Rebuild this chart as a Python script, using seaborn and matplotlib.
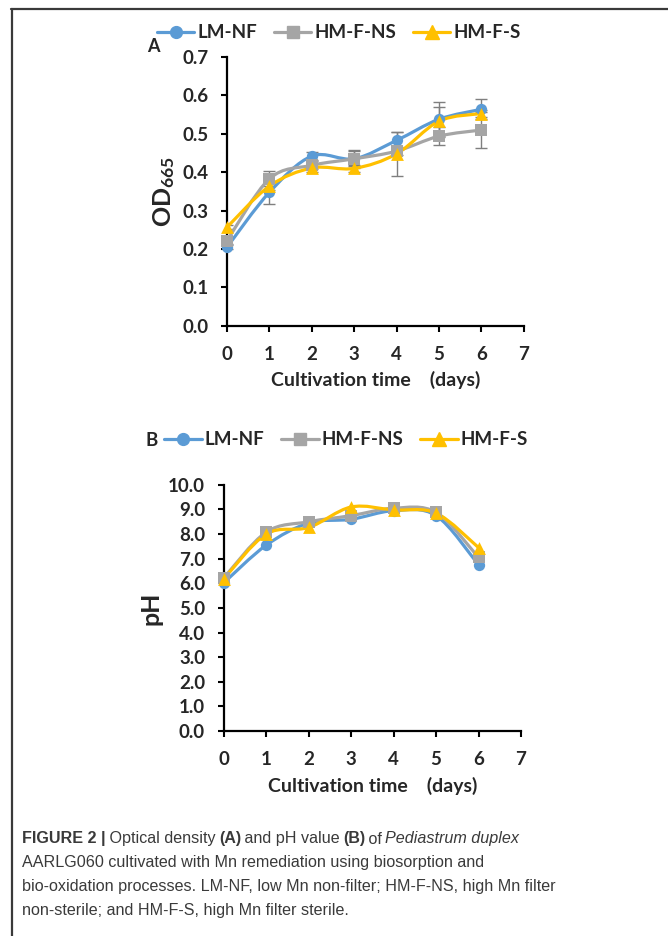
import numpy as np
import seaborn as sns
from matplotlib import pyplot as plt
from matplotlib.path import Path
from matplotlib.patches import PathPatch
from matplotlib.lines import Line2D

days = [0, 1, 2, 3, 4, 5, 6]
series = ['LM-NF', 'HM-F-NS', 'HM-F-S']
colors = ['#5B9BD5', '#A5A5A5', '#FFC000']
markers = ['o', 's', '^']

# panel A: optical density
od_lm_nf = [0.205, 0.348, 0.442, 0.435, 0.483, 0.538, 0.564]
od_hm_f_ns = [0.222, 0.383, 0.418, 0.435, 0.455, 0.494, 0.51]
od_hm_f_s = [0.257, 0.364, 0.411, 0.41, 0.448, 0.533, 0.553]
od_err_lm_nf = [0.005, 0.03, 0.01, 0.02, 0.022, 0.045, 0.026]
od_err_hm_f_ns = [0.01, 0.02, 0.01, 0.023, 0.01, 0.024, 0.046]
od_err_hm_f_s = [0.005, 0.01, 0.01, 0.01, 0.058, 0.038, 0.01]

# panel B: pH
ph_lm_nf = [6.02, 7.55, 8.45, 8.6, 8.95, 8.75, 6.75]
ph_hm_f_ns = [6.22, 8.08, 8.5, 8.75, 9.05, 8.88, 7.05]
ph_hm_f_s = [6.18, 8.0, 8.27, 9.1, 8.98, 8.85, 7.45]

sns.set_style('ticks')
plt.rcParams['font.family'] = ['Lato', 'DejaVu Sans']
plt.rcParams['mathtext.fontset'] = 'custom'
plt.rcParams['mathtext.rm'] = 'Lato:bold'
plt.rcParams['mathtext.bf'] = 'Lato:bold'


def smooth_path(x, y):
    # excel-like smoothed line through the points
    pts = np.column_stack([x, y]).astype(float)
    ext = np.vstack([pts[0], pts, pts[-1]])
    verts = [pts[0]]
    codes = [Path.MOVETO]
    for i in range(len(pts) - 1):
        p0, p1, p2, p3 = ext[i], ext[i + 1], ext[i + 2], ext[i + 3]
        verts += [p1 + (p2 - p0) / 6, p2 - (p3 - p1) / 6, p2]
        codes += [Path.CURVE4] * 3
    return Path(verts, codes)


def draw_panel(ax, values, errors=None):
    if errors is not None:
        for vals, err in zip(values, errors):
            ax.errorbar(days, vals, yerr=err, fmt='none', ecolor='#7f7f7f',
                        elinewidth=1, capsize=4, capthick=1, zorder=1)
    for vals, c, m in zip(values, colors, markers):
        ax.add_patch(PathPatch(smooth_path(days, vals), fill=False,
                               edgecolor=c, lw=2.3, zorder=2,
                               capstyle='round'))
        sns.scatterplot(x=days, y=vals, marker=m, color=c, s=85 if m == '^' else 66,
                        edgecolor=c, linewidth=0, zorder=3, ax=ax, legend=False,
                        clip_on=False)
    ax.set_xlim(0, 7)
    ax.set_xticks(range(8))
    for side in ['top', 'right']:
        ax.spines[side].set_visible(False)
    for side in ['left', 'bottom']:
        ax.spines[side].set_linewidth(1.6)
        ax.spines[side].set_color('black')
    ax.tick_params(direction='out', length=4.5, width=1.5, labelsize=13.5,
                   color='black')
    ax.tick_params(axis='y', pad=9)
    ax.tick_params(axis='x', pad=10)
    for lab in ax.get_xticklabels() + ax.get_yticklabels():
        lab.set_fontweight('bold')
    ax.set_xlabel('Cultivation time    (days)', fontsize=14, fontweight='bold',
                  labelpad=6)


handles = [Line2D([], [], color=c, marker=m, lw=2.3, markersize=9.5 if m == '^' else 8.5)
           for c, m in zip(colors, markers)]
leg_kw = dict(loc='center', ncol=3, frameon=False, handlelength=2.0,
              handletextpad=0.15, columnspacing=0.9,
              prop={'weight': 'bold', 'size': 13.5})

fig = plt.figure(figsize=(6.68, 9.36), dpi=100)

ax1 = fig.add_axes([0.340, 0.652, 0.444, 0.287])
draw_panel(ax1, [od_lm_nf, od_hm_f_ns, od_hm_f_s],
           [od_err_lm_nf, od_err_hm_f_ns, od_err_hm_f_s])
ax1.set_ylim(0, 0.7)
ax1.set_yticks(np.arange(0, 0.71, 0.1))
ax1.set_yticklabels([f'{v:.1f}' for v in np.arange(0, 0.71, 0.1)], fontweight='bold')
ax1.set_ylabel(r'$\mathregular{OD_{665}}$', fontsize=18, fontweight='bold', labelpad=4)
fig.legend(handles, series, bbox_to_anchor=(0.507, 0.965), **leg_kw)
fig.text(153 / 668, 1 - 47 / 936, 'A', fontsize=13, fontweight='bold',
         ha='center', va='center')

ax2 = fig.add_axes([0.335, 0.219, 0.445, 0.263])
draw_panel(ax2, [ph_lm_nf, ph_hm_f_ns, ph_hm_f_s])
ax2.set_ylim(0, 10)
ax2.set_yticks(range(11))
ax2.set_yticklabels([f'{v:.1f}' for v in range(11)], fontweight='bold')
ax2.set_ylabel('pH', fontsize=18, fontweight='bold', labelpad=4)
fig.legend(handles, series, bbox_to_anchor=(0.518, 0.530), **leg_kw)
fig.text(152 / 668, 1 - 440 / 936, 'B', fontsize=13.5, fontweight='bold',
         ha='center', va='center')

# frame lines of the figure box
fig.add_artist(Line2D([11 / 668, 1], [1 - 8.5 / 936] * 2, color='#3a3a3a', lw=1.6))
fig.add_artist(Line2D([11.5 / 668] * 2, [0, 1 - 8.5 / 936], color='#3a3a3a', lw=1.6))

# caption, built piece by piece for the mixed styles
cap_color = '#3a3a3a'
cap_font = ['Liberation Sans', 'DejaVu Sans']
cap_size = 11.6
caption = [
    [('FIGURE 2 |', 'bold', 'normal'), (' Optical density ', 'normal', 'normal'),
     ('(A)', 'bold', 'normal'), (' and pH value ', 'normal', 'normal'),
     ('(B)', 'bold', 'normal'), (' of ', 'normal', 'normal'),
     ('Pediastrum duplex', 'normal', 'italic')],
    [('AARLG060 cultivated with Mn remediation using biosorption and', 'normal', 'normal')],
    [('bio-oxidation processes. LM-NF, low Mn non-filter; HM-F-NS, high Mn filter', 'normal', 'normal')],
    [('non-sterile; and HM-F-S, high Mn filter sterile.', 'normal', 'normal')],
]
line_y = [839, 862, 886, 910]
fig.canvas.draw()
renderer = fig.canvas.get_renderer()
for pieces, y in zip(caption, line_y):
    x = 22
    for txt, weight, style in pieces:
        t = fig.text(x / 668, 1 - y / 936, txt, fontsize=cap_size, color=cap_color,
                     fontweight=weight, fontstyle=style, family=cap_font,
                     ha='left', va='center')
        x += t.get_window_extent(renderer).width - 1

fig.savefig('out.png', dpi=100)
